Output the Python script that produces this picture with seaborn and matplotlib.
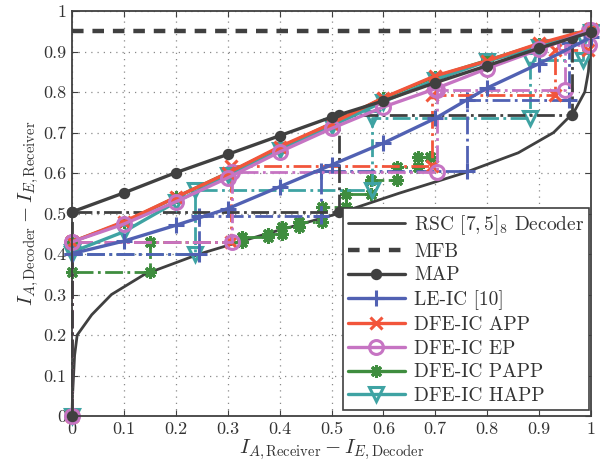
import numpy as np
import pandas as pd
import matplotlib
matplotlib.use("Agg")
import matplotlib.pyplot as plt
import seaborn as sns
from matplotlib.ticker import MultipleLocator, FuncFormatter

# EXIT chart data
x_grid = [0, 0.1, 0.2, 0.3, 0.4, 0.5, 0.6, 0.7, 0.8, 0.9, 1.0]

# decoder curve, plotted inverted (I_E on x, I_A on y)
rsc_x = [0, 0.001, 0.003, 0.005, 0.01, 0.038, 0.076, 0.14, 0.245, 0.375,
         0.513, 0.63, 0.755, 0.86, 0.928, 0.967, 0.988, 0.995, 0.998, 1.0]
rsc_y = [0, 0.05, 0.1, 0.15, 0.2, 0.25, 0.3, 0.35, 0.4, 0.45,
         0.5, 0.55, 0.6, 0.65, 0.7, 0.75, 0.8, 0.85, 0.9, 0.95]

mfb_x = [0, 1.0]
mfb_y = [0.95, 0.95]

map_y = [0.504, 0.551, 0.601, 0.646, 0.692, 0.738, 0.778, 0.823, 0.865, 0.908, 0.948]
leic_y = [0.401, 0.432, 0.471, 0.512, 0.566, 0.620, 0.674, 0.735, 0.810, 0.870, 0.935]
papp_y = [0.430, 0.478, 0.540, 0.600, 0.662, 0.722, 0.785, 0.838, 0.878, 0.918, 0.953]
app_y = [0.430, 0.480, 0.540, 0.600, 0.665, 0.722, 0.786, 0.840, 0.877, 0.920, 0.955]
ep_y = [0.430, 0.474, 0.529, 0.588, 0.652, 0.710, 0.763, 0.808, 0.858, 0.905, 0.953]
happ_y = [0.405, 0.455, 0.528, 0.594, 0.656, 0.716, 0.776, 0.830, 0.876, 0.912, 0.948]

# decoding trajectories
map_tx = [0, 0, 0.515, 0.515, 0.963, 0.963]
map_ty = [0, 0.504, 0.504, 0.743, 0.743, 0.934]
leic_tx = [0, 0, 0.245, 0.245, 0.48, 0.48, 0.761, 0.761, 0.957, 0.957]
leic_ty = [0, 0.401, 0.401, 0.493, 0.493, 0.605, 0.605, 0.78, 0.78, 0.92]
app_tx = [0, 0, 0.307, 0.307, 0.693, 0.693, 0.931, 0.931, 0.995]
app_ty = [0, 0.43, 0.43, 0.618, 0.618, 0.792, 0.792, 0.903, 0.903]
ep_tx = [0, 0, 0.309, 0.309, 0.703, 0.703, 0.95, 0.95, 0.996, 0.996]
ep_ty = [0, 0.43, 0.43, 0.603, 0.603, 0.805, 0.805, 0.916, 0.916, 0.953]
papp_tx = [0, 0, 0.15, 0.15, 0.327, 0.327, 0.378, 0.378, 0.405, 0.405, 0.438, 0.438,
           0.482, 0.482, 0.527, 0.527, 0.577, 0.577, 0.626, 0.626, 0.666, 0.666, 0.69]
papp_ty = [0, 0.356, 0.356, 0.43, 0.43, 0.442, 0.442, 0.45, 0.45, 0.467, 0.467, 0.479,
           0.479, 0.516, 0.516, 0.549, 0.549, 0.584, 0.584, 0.615, 0.615, 0.64, 0.64]
happ_tx = [0, 0, 0.237, 0.237, 0.578, 0.578, 0.882, 0.882, 0.985, 0.985]
happ_ty = [0, 0.40, 0.40, 0.557, 0.557, 0.737, 0.737, 0.878, 0.878, 0.93]

labels = [r"RSC $[7,5]_8$ Decoder", "MFB", "MAP", "LE-IC [10]",
          "DFE-IC APP", "DFE-IC EP", "DFE-IC PAPP", "DFE-IC HAPP"]

dark = "#404040"
blue = "#5161b3"
red = "#f2553b"
mag = "#c674c3"
green = "#3f8d3f"
teal = "#3fa3a3"

sns.set_style("ticks")
plt.rcParams["font.family"] = ["cmr10"]
plt.rcParams["mathtext.fontset"] = "cm"
plt.rcParams["axes.formatter.use_mathtext"] = True
plt.rcParams["axes.unicode_minus"] = False

fig = plt.figure(figsize=(6, 4.68), dpi=100)
ax = fig.add_axes([0.12, 0.111, 0.865, 0.8655])


def line(x, y, color, ls="-", lw=2.2, **kw):
    df = pd.DataFrame({"x": x, "y": y})
    sns.lineplot(data=df, x="x", y="y", sort=False, estimator=None, ax=ax,
                 color=color, linestyle=ls, linewidth=lw, clip_on=False, **kw)
    return ax.lines[-1]


styles = [
    # curve y, traj x, traj y, color, marker, size, filled
    (map_y, map_tx, map_ty, dark, "o", 6, True),
    (leic_y, leic_tx, leic_ty, blue, "+", 11, True),
    (app_y, app_tx, app_ty, red, "x", 8, True),
    (ep_y, ep_tx, ep_ty, mag, "o", 10, False),
    (papp_y, papp_tx, papp_ty, green, (8, 2, 0), 9, True),
    (happ_y, happ_tx, happ_ty, teal, "v", 10, False),
]

handles = []
h = line(rsc_x, rsc_y, dark, lw=2.0)
handles.append(h)
h = line(mfb_x, mfb_y, dark, lw=3.2)
h.set_dashes([2.6, 2.0])
handles.append(h)

# curve drawing order: hidden ones first
draw_order = [4, 5, 1, 2, 3, 0]
curve_handles = {}
for k, i in enumerate(draw_order):
    cy, tx, ty, c, m, ms, filled = styles[i]
    mk = dict(marker=m, markersize=ms, markeredgecolor=c, markeredgewidth=2.2,
              markerfacecolor=c if filled else "none")
    line(tx, ty, c, ls="-.", lw=2.0, zorder=2.5, **mk)
    h = line(x_grid, cy, c, lw=2.4, zorder=3 + 0.1 * k, **mk)
    curve_handles[i] = h

for i in range(6):
    handles.append(curve_handles[i])

ax.set_xlim(0, 1)
ax.set_ylim(0, 1)
ax.xaxis.set_major_locator(MultipleLocator(0.1))
ax.yaxis.set_major_locator(MultipleLocator(0.1))
fmt = FuncFormatter(lambda v, p: "0" if abs(v) < 1e-9 else ("1" if abs(v - 1) < 1e-9 else f"{v:.1f}"))
ax.xaxis.set_major_formatter(fmt)
ax.yaxis.set_major_formatter(fmt)
ax.grid(True, color="#8a8a8a", linestyle=(0, (1, 4)), linewidth=0.9)
ax.tick_params(direction="in", top=True, right=True, length=4, width=0.8,
               labelsize=13, colors=dark, labelcolor="#333333", pad=4)
for s in ax.spines.values():
    s.set_color(dark)
    s.set_linewidth(1.3)
    s.set_zorder(6)

ax.set_xlabel(r"$I_{A,\mathrm{Receiver}} - I_{E,\mathrm{Decoder}}$", fontsize=15,
              color="#333333", labelpad=0)
ax.set_ylabel(r"$I_{A,\mathrm{Decoder}} - I_{E,\mathrm{Receiver}}$", fontsize=15,
              color="#333333", labelpad=2)

leg = ax.legend(handles, labels, loc="lower right", bbox_to_anchor=(0.997, 0.015),
                borderaxespad=0, fontsize=14, frameon=True, fancybox=False,
                edgecolor=dark, handlelength=2.9, labelspacing=0.3, borderpad=0.25,
                handletextpad=0.5, framealpha=1)
leg.get_frame().set_linewidth(1.2)
for t in leg.get_texts():
    t.set_color("#333333")
leg.set_zorder(10)

fig.savefig("out.png", dpi=100)
